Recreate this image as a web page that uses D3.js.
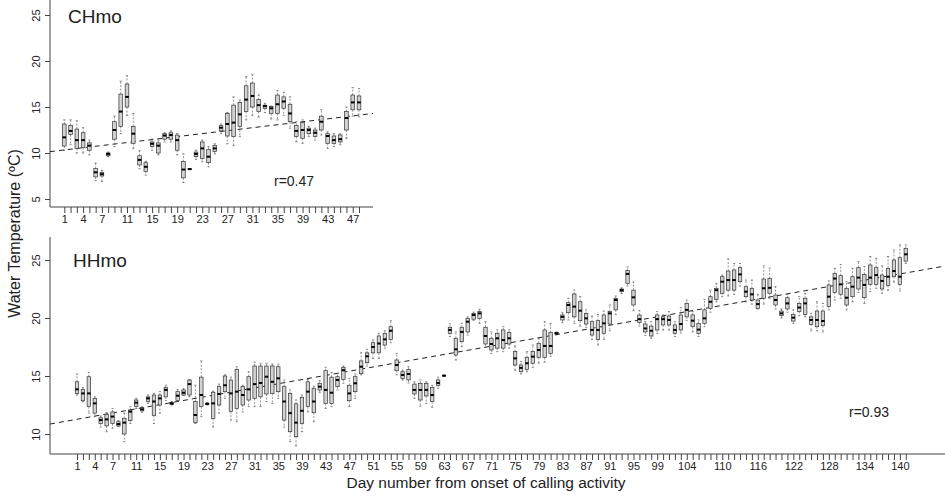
<!DOCTYPE html>
<html><head><meta charset="utf-8">
<script src="https://cdn.jsdelivr.net/npm/d3@7"></script>
<style>
body{margin:0;background:#fff}
svg{display:block}
text{font-family:"Liberation Sans",Arial,Helvetica,sans-serif;fill:#222}
</style>
</head><body>
<svg id="chart" width="945" height="496"></svg>
<script>
// ---------------- DATA ----------------
const chDays = d3.range(1, 49);            // CHmo: day 1..48
const chLabels = [1,4,7,11,15,19,23,27,31,35,39,43,47];
const chYTicks = [5,10,15,20,25];
const chLow  = [10.3,10.9,10.0,10.0,9.8,7.0,6.9,9.6,10.7,12.1,
                14.1,10.5,8.3,7.6,10.3,9.8,11.2,11.2,9.8,6.8,
                8.2,9.3,9.06,8.5,9.9,12.1,11.0,10.8,11.8,13.6,
                14.1,13.9,14.4,13.7,13.6,14.1,12.7,11.2,11.05,11.8,
                11.4,11.96,10.5,10.7,10.9,11.6,14.0,13.95];
const chQ1   = [10.76,12.0,10.5,10.6,10.3,7.4,7.5,9.7,11.5,12.9,
                15.0,11.05,8.7,8.0,10.7,10.0,11.5,11.5,10.3,7.3,
                8.22,9.6,9.4,8.95,10.15,12.4,11.85,11.8,12.9,14.5,
                15.0,14.5,14.85,14.3,14.3,14.86,13.4,11.8,11.6,12.1,
                11.8,12.5,11.05,11.05,11.2,12.5,14.7,14.7];
const chMed  = [11.7,12.4,11.4,11.4,10.8,7.9,7.7,9.9,12.5,14.5,
                16.1,12.1,9.25,8.5,11.0,10.8,11.9,11.95,11.4,8.2,
                8.25,9.9,10.5,9.6,10.5,12.75,13.15,13.3,14.2,15.8,
                16.2,15.2,15.1,14.86,15.3,15.6,14.3,12.4,12.5,12.5,
                12.2,13.4,11.85,11.4,11.5,13.8,15.5,15.5];
const chQ3   = [13.15,13.0,12.6,12.2,11.1,8.3,7.9,10.0,13.4,16.4,
                17.5,12.9,9.7,8.95,11.2,11.1,12.1,12.2,11.95,9.06,
                8.28,10.1,11.2,10.4,10.8,12.97,14.3,15.2,15.5,17.3,
                17.6,15.8,15.2,15.04,16.3,16.1,15.3,13.0,13.3,12.7,
                12.5,14.0,12.1,11.85,11.96,14.5,16.3,16.2];
const chHigh = [13.6,13.6,13.5,12.75,11.4,8.9,8.1,10.1,14.0,17.8,
                18.4,14.3,10.25,9.1,11.5,11.4,12.2,12.4,12.1,9.9,
                8.3,10.3,11.4,10.7,11.0,13.15,14.4,16.1,15.76,18.3,
                18.5,16.3,15.4,15.1,16.8,16.6,16.1,13.4,13.6,12.9,
                12.7,14.7,12.3,12.1,12.1,15.0,17.1,17.0];
const chTrend = [10.25, 0.0806];   // intercept, slope per day
const chR = "r=0.47";

const hhDays = d3.range(1, 142);           // HHmo: day 1..141
const hhLabels = [1,4,7,11,15,19,23,27,31,35,39,43,47,51,55,59,63,67,71,75,79,83,87,91,95,99,104,110,116,122,128,134,140];
const hhYTicks = [10,15,20,25];
const hhLow = [13.36,12.8,11.8,11.5,10.6,10.2,10.5,10.63,9.34,10.9,
  12.2,11.87,12.64,10.9,11.8,12.9,12.5,12.8,13.3,13.2,
  10.9,11.5,12.5,10.6,11.8,13.07,11.2,11.06,11.9,12.36,
  12.36,12.36,12.8,12.64,13.07,10.6,9.34,8.97,10.2,11.9,
  11.06,13.56,12.2,12.36,13.8,14.37,12.36,13.07,15.1,15.86,
  16.5,16.5,17.4,17.87,15.1,14.65,14.4,13.07,12.4,12.64,
  12.3,13.94,14.98,18.4,16.38,17.53,18.53,19.8,19.54,17.47,
  16.95,17.1,17.1,17.4,15.5,15.17,15.37,15.75,16.1,16.2,
  16.7,18.55,19.6,19.83,19.54,19.3,19.2,18.16,17.67,18.16,
  18.9,20.3,22.1,22.76,20.63,19.31,18.5,18.25,18.68,18.97,
  18.97,18.4,18.7,19.8,18.8,18.4,19.25,20.5,21.4,21.84,
  21.9,22.04,22.76,21.4,21.2,20.78,21.2,21.7,20.78,20.0,
  20.5,19.54,20.2,20.1,18.9,18.9,18.8,20.7,21.55,21.7,
  20.7,21.4,22.2,21.26,22.27,22.56,22.13,22.4,23.1,22.33,24.7];
const hhQ1 = [13.5,12.87,12.36,11.8,10.9,10.7,10.9,10.7,10.0,11.15,
  12.36,12.0,12.8,11.6,12.5,13.2,12.55,12.9,13.36,13.36,
  10.98,12.36,12.55,11.35,12.5,13.65,11.93,12.2,12.5,12.93,
  13.07,13.2,13.45,13.5,13.65,11.2,10.2,9.77,10.9,12.36,
  11.84,13.79,12.64,12.64,14.08,14.7,12.87,13.65,15.2,16.15,
  17.0,17.0,17.67,18.16,15.46,14.8,14.66,13.45,12.93,13.28,
  12.8,14.2,15.0,18.68,16.8,17.96,18.8,19.9,19.97,17.76,
  17.24,17.4,17.4,17.76,15.95,15.37,15.57,16.1,16.6,16.6,
  16.95,18.62,19.83,20.46,20.1,19.77,19.48,18.53,18.16,18.68,
  19.48,20.7,22.27,22.99,21.12,19.6,18.8,18.45,18.97,19.4,
  19.4,18.68,18.97,20.1,19.25,18.68,19.54,20.83,21.6,22.13,
  22.4,22.4,23.13,21.84,21.55,20.83,21.7,22.13,21.12,20.2,
  20.78,19.74,20.55,20.3,19.45,19.25,19.34,20.98,22.2,22.04,
  21.12,21.84,22.5,21.75,22.9,22.9,22.5,22.8,23.56,22.9,24.9];
const hhMed = [13.85,13.5,13.5,12.64,11.2,11.26,11.5,10.86,10.98,11.93,
  12.7,12.13,13.07,12.8,13.07,13.8,12.64,13.3,13.56,14.3,
  11.64,13.36,12.6,12.64,13.45,14.2,13.5,13.65,13.36,13.85,
  14.3,14.4,14.94,14.5,14.8,12.8,11.8,10.98,12.0,13.65,
  12.8,14.08,13.8,13.56,14.66,15.5,13.5,14.37,15.8,16.7,
  17.5,17.8,18.16,18.9,15.95,15.09,15.17,13.8,13.8,13.8,
  13.36,14.4,15.03,18.97,17.3,18.8,19.68,20.26,20.4,18.45,
  17.76,18.25,18.1,18.25,16.52,15.7,16.1,16.67,17.24,17.59,
  17.59,18.68,20.1,21.12,20.98,20.63,19.97,18.97,18.97,19.54,
  20.4,21.55,22.4,23.8,21.78,19.9,19.1,18.9,19.9,19.9,
  19.83,18.97,19.48,20.7,19.77,19.0,19.97,21.4,22.4,23.13,
  23.27,23.27,23.76,22.27,22.04,21.2,22.56,22.6,21.55,20.4,
  21.26,20.03,20.9,21.26,19.83,19.83,19.74,21.84,23.4,22.9,
  21.75,22.7,23.48,22.85,23.48,23.7,23.2,23.56,24.05,23.56,25.49];
const hhQ3 = [14.5,13.85,14.94,13.07,11.4,11.7,11.9,11.06,11.35,12.07,
  12.93,12.27,13.2,13.36,13.36,14.0,12.7,13.65,13.8,14.65,
  12.8,14.9,12.65,13.6,14.1,15.0,14.65,15.57,14.1,14.94,
  15.86,15.86,15.86,15.86,15.8,14.08,13.5,12.6,13.16,14.5,
  13.94,14.37,15.46,14.9,14.94,15.75,14.2,14.94,16.3,17.0,
  17.87,18.45,18.68,19.25,16.38,15.37,15.57,14.3,14.37,14.37,
  14.0,14.66,15.06,19.2,18.25,19.2,19.97,20.4,20.55,19.2,
  18.25,18.68,18.97,18.74,17.1,15.95,16.6,17.1,17.82,18.97,
  18.74,18.74,20.26,21.32,22.07,21.4,20.4,19.68,19.77,20.26,
  20.55,21.7,22.5,24.1,22.4,20.26,19.48,19.3,20.26,20.1,
  20.17,19.4,20.26,21.26,20.26,19.54,20.7,21.84,22.56,23.56,
  24.05,24.14,24.34,22.7,22.56,21.55,23.36,23.4,21.98,20.6,
  21.75,20.3,21.26,21.7,20.1,20.6,20.6,22.85,23.85,23.65,
  22.56,23.56,24.34,23.76,24.57,24.34,23.7,24.28,25.0,25.2,26.0];
const hhHigh = [15.17,14.0,15.3,13.2,11.55,11.84,12.2,11.15,11.8,12.35,
  13.07,12.35,13.36,13.5,13.65,14.2,12.8,13.85,13.9,14.7,
  14.2,16.3,12.7,13.7,14.3,15.1,14.9,15.8,14.2,15.37,
  16.2,16.1,16.1,16.03,16.03,14.65,13.8,12.93,13.36,14.7,
  14.1,14.6,15.75,15.3,15.2,15.86,14.8,15.17,17.0,17.3,
  18.1,18.68,18.9,19.77,16.95,15.5,15.8,14.5,14.66,14.5,
  14.2,14.9,15.08,19.5,18.8,19.54,20.1,20.5,20.75,19.68,
  18.8,18.97,19.25,18.97,17.59,16.24,17.1,17.67,18.25,19.68,
  19.54,18.8,20.46,21.7,22.4,21.84,20.7,20.17,20.3,20.6,
  21.12,21.9,22.6,24.4,23.1,20.63,19.68,19.68,20.55,20.26,
  20.55,19.68,20.9,21.55,20.55,19.83,21.6,22.4,22.99,23.7,
  25.1,24.7,24.7,23.27,23.27,22.04,24.5,24.3,22.7,20.78,
  22.04,20.7,21.84,22.13,20.4,21.4,21.26,23.2,24.28,24.6,
  23.13,24.28,24.86,24.43,25.3,25.15,24.5,25.3,25.86,26.3,26.3];
const hhTrend = [11.18, 0.0901];
const hhR = "r=0.93";

const yTitle = "Water Temperature (ºC)";
const xTitle = "Day number from onset of calling activity";

// ---------------- DRAW ----------------
const svg = d3.select("#chart");

function panel(cfg) {
  const g = svg.append("g");
  const n = cfg.days.length;
  const x = d3.scaleLinear().domain([cfg.days[0], cfg.days[n - 1]]).range(cfg.xRange);
  const y = d3.scaleLinear().domain(cfg.yDomain).range(cfg.yRange);
  const f = cfg.frame;

  g.append("line").attr("x1", f.left).attr("x2", f.right).attr("y1", f.bottom).attr("y2", f.bottom)
    .attr("stroke", "#444").attr("stroke-width", 1);
  g.append("line").attr("x1", f.left).attr("x2", f.left).attr("y1", f.top).attr("y2", f.bottom)
    .attr("stroke", "#444").attr("stroke-width", 1);

  const xa = d3.axisBottom(x).tickValues(cfg.days).tickSize(6).tickPadding(2)
    .tickFormat(d => cfg.labels.includes(d) ? String(d) : "");
  const gx = g.append("g").attr("transform", `translate(0,${f.bottom})`).call(xa);
  gx.select(".domain").remove();
  gx.selectAll(".tick line").attr("stroke", "#444");
  gx.selectAll(".tick text").attr("font-size", 11).attr("fill", "#222")
    .style("font-family", '"Liberation Sans",Arial,sans-serif');

  const ya = d3.axisLeft(y).tickValues(cfg.yTicks).tickSize(5).tickFormat(d3.format("d"));
  const gy = g.append("g").attr("transform", `translate(${f.left},0)`).call(ya);
  gy.select(".domain").remove();
  gy.selectAll(".tick line").attr("stroke", "#444");
  gy.selectAll(".tick text").attr("font-size", 11).attr("fill", "#222")
    .style("font-family", '"Liberation Sans",Arial,sans-serif')
    .attr("x", 0).attr("y", 0).attr("dy", 0)
    .attr("text-anchor", "middle")
    .attr("transform", "translate(-10,0) rotate(-90)");

  const d0 = x.invert(f.left), d1 = x.invert(f.right);
  g.append("line")
    .attr("x1", f.left).attr("y1", y(cfg.trend[0] + cfg.trend[1] * d0))
    .attr("x2", f.right).attr("y2", y(cfg.trend[0] + cfg.trend[1] * d1))
    .attr("stroke", "#222").attr("stroke-width", 1).attr("stroke-dasharray", "5,4");

  const bw = (x(cfg.days[1]) - x(cfg.days[0])) * cfg.boxFrac;
  const boxes = g.append("g");
  cfg.days.forEach((d, i) => {
    const cx = x(d);
    const lo = cfg.low[i], q1 = cfg.q1[i], md = cfg.med[i], q3 = cfg.q3[i], hi = cfg.high[i];
    const bg = boxes.append("g");
    bg.append("line").attr("x1", cx).attr("x2", cx).attr("y1", y(q3)).attr("y2", y(hi))
      .attr("stroke", "#666").attr("stroke-width", 0.7).attr("stroke-dasharray", "2,1.5");
    bg.append("line").attr("x1", cx).attr("x2", cx).attr("y1", y(q1)).attr("y2", y(lo))
      .attr("stroke", "#666").attr("stroke-width", 0.7).attr("stroke-dasharray", "2,1.5");
    [lo, hi].forEach(v => bg.append("line")
      .attr("x1", cx - bw * 0.3).attr("x2", cx + bw * 0.3).attr("y1", y(v)).attr("y2", y(v))
      .attr("stroke", "#555").attr("stroke-width", 0.7));
    bg.append("rect").attr("x", cx - bw / 2).attr("width", bw)
      .attr("y", y(q3)).attr("height", Math.max(0.8, y(q1) - y(q3)))
      .attr("fill", "#d2d2d2").attr("stroke", "#333").attr("stroke-width", 0.7);
    bg.append("line").attr("x1", cx - bw / 2).attr("x2", cx + bw / 2).attr("y1", y(md)).attr("y2", y(md))
      .attr("stroke", "#000").attr("stroke-width", 2);
  });

  g.append("text").attr("x", cfg.title.x).attr("y", cfg.title.y).attr("font-size", 19).text(cfg.title.text);
  g.append("text").attr("x", cfg.rLab.x).attr("y", cfg.rLab.y).attr("font-size", 14).text(cfg.rLab.text);
}

panel({
  days: chDays, labels: chLabels, yTicks: chYTicks,
  low: chLow, q1: chQ1, med: chMed, q3: chQ3, high: chHigh, trend: chTrend,
  xRange: [64.3, 359.0], yDomain: [5, 25], yRange: [199, 15],
  frame: {left: 50, right: 373, top: 0, bottom: 207},
  boxFrac: 0.58,
  title: {text: "CHmo", x: 68, y: 22.7},
  rLab: {text: chR, x: 274, y: 186}
});

panel({
  days: hhDays, labels: hhLabels, yTicks: hhYTicks,
  low: hhLow, q1: hhQ1, med: hhMed, q3: hhQ3, high: hhHigh, trend: hhTrend,
  xRange: [77, 905.8], yDomain: [10, 25], yRange: [434, 260],
  frame: {left: 50, right: 945, top: 237, bottom: 454},
  boxFrac: 0.58,
  title: {text: "HHmo", x: 73, y: 267},
  rLab: {text: hhR, x: 849, y: 417}
});

svg.append("text").attr("transform", "translate(20,233.5) rotate(-90)")
  .attr("text-anchor", "middle").attr("font-size", 16).text(yTitle);
svg.append("text").attr("x", 486).attr("y", 488)
  .attr("text-anchor", "middle").attr("font-size", 15.5).text(xTitle);
</script>
</body></html>
